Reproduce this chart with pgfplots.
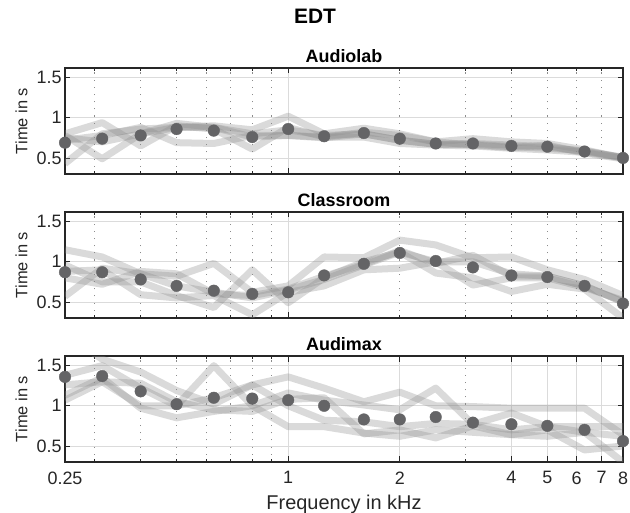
\documentclass[border=0pt]{standalone}
\usepackage{pgfplots}
\usepackage{pgfplotstable}
\pgfplotsset{compat=1.18}
\usepackage{fontspec}
\setmainfont{Liberation Sans}
\definecolor{axc}{RGB}{38,38,38}
\definecolor{dotc}{RGB}{100,100,102}
\definecolor{bandc}{RGB}{140,140,140}

\pgfplotstableread{
f     s1    s2    s3    s4    s5    m
0.25  0.43  0.78  0.80  0.72  0.75  0.69
0.315 0.80  0.49  0.94  0.78  0.70  0.74
0.4   0.86  0.80  0.65  0.88  0.80  0.78
0.5   0.88  0.93  0.90  0.69  0.88  0.86
0.63  0.90  0.88  0.86  0.68  0.88  0.84
0.8   0.85  0.80  0.61  0.78  0.76  0.76
1     1.02  0.85  0.88  0.78  0.78  0.86
1.25  0.80  0.78  0.76  0.76  0.75  0.77
1.6   0.87  0.80  0.82  0.76  0.80  0.81
2     0.80  0.72  0.78  0.68  0.72  0.74
2.5   0.70  0.67  0.70  0.66  0.67  0.68
3.15  0.74  0.68  0.66  0.65  0.67  0.68
4     0.70  0.66  0.63  0.62  0.64  0.65
5     0.68  0.64  0.66  0.60  0.62  0.64
6.3   0.60  0.58  0.56  0.57  0.59  0.58
8     0.50  0.51  0.49  0.50  0.50  0.50
}\audiolab

\pgfplotstableread{
f     s1    s2    s3    s4    s5    m
0.25  1.15  0.96  0.88  0.57  0.80  0.87
0.315 1.06  0.75  0.90  0.92  0.72  0.87
0.4   0.85  0.75  0.59  0.85  0.88  0.78
0.5   0.82  0.58  0.55  0.70  0.85  0.70
0.63  0.98  0.43  0.58  0.62  0.60  0.64
0.8   0.62  0.90  0.34  0.55  0.58  0.60
1     0.70  0.49  0.62  0.65  0.66  0.62
1.25  1.06  0.80  0.70  0.78  0.82  0.83
1.6   1.05  1.00  0.90  0.96  0.97  0.975
2     1.27  1.12  0.92  1.12  1.14  1.11
2.5   1.21  0.86  1.00  1.00  0.98  1.01
3.15  1.05  0.80  1.00  0.71  1.08  0.93
4     1.06  0.63  0.85  0.80  0.82  0.83
5     0.90  0.72  0.82  0.80  0.82  0.81
6.3   0.78  0.66  0.70  0.68  0.70  0.70
8     0.58  0.30  0.50  0.52  0.50  0.48
}\classroom

\pgfplotstableread{
f     s1    s2    s3    s4    s5    m
0.25  1.90  1.38  1.26  1.13  1.07  1.36
0.315 1.58  1.50  1.30  1.35  1.30  1.37
0.4   1.42  1.22  1.00  0.97  1.28  1.18
0.5   1.19  1.00  1.00  0.85  1.05  1.02
0.63  1.02  1.50  1.10  0.93  0.95  1.10
0.8   1.26  1.00  1.26  1.00  0.93  1.09
1     1.36  1.16  1.00  0.74  1.08  1.07
1.25  1.22  1.07  0.82  0.74  1.10  1.00
1.6   1.05  1.01  0.80  0.66  0.65  0.83
2     1.17  0.95  0.74  0.62  0.70  0.83
2.5   1.00  1.22  0.78  0.70  0.60  0.86
3.15  0.99  0.77  0.77  0.67  0.75  0.79
4     0.97  0.91  0.70  0.64  0.64  0.77
5     0.97  0.74  0.74  0.62  0.70  0.75
6.3   0.97  0.74  0.67  0.67  0.45  0.70
8     0.64  0.74  0.30  0.62  0.50  0.56
}\audimax

\pgfplotsset{
  width=558bp, height=106bp, scale only axis,
  axis line style={axc, line width=1.1pt},
  tick style={axc, line width=0.7pt},
  major tick length=5.5bp, minor tick length=3bp,
  tick align=inside,
  major grid style={black!14, line width=0.7pt},
  minor grid style={black!45, line width=0.6pt, dash pattern=on 1.2pt off 6pt},
  tick label style={font=\fontsize{18}{18}\selectfont, text=axc},
  xticklabel style={yshift=-6bp},
  title style={font=\bfseries\fontsize{18}{18}\selectfont, text=black},
}

\begin{document}
\begin{tikzpicture}
\useasboundingbox (0,0) rectangle (630bp,513bp);
\node[font=\bfseries\fontsize{21}{21}\selectfont, anchor=center] at (315bp,497bp) {EDT};

\begin{axis}[at={(65bp,339bp)}, anchor=south west,
  xmode=log, xmin=0.25, xmax=8, ymin=0.3, ymax=1.62,
  ytick={0.5,1,1.5}, yticklabels={0.5,1,1.5},
  xtick={1}, xticklabels={},
  minor xtick={0.3,0.4,0.5,0.6,0.7,0.8,0.9,2,3,4,5,6,7},
  grid=both,
  ylabel={Time in s},
  ylabel style={font=\fontsize{16.5}{16.5}\selectfont, text=axc, at={(axis description cs:-0.078,0.5)}, anchor=center},
  title={Audiolab},
  title style={at={(axis description cs:0.5,1)}, yshift=6bp, anchor=center}]
\addplot[bandc, opacity=0.32, line width=7bp, line join=round] table[x=f, y=s1] {\audiolab};
\addplot[bandc, opacity=0.32, line width=7bp, line join=round] table[x=f, y=s2] {\audiolab};
\addplot[bandc, opacity=0.32, line width=7bp, line join=round] table[x=f, y=s3] {\audiolab};
\addplot[bandc, opacity=0.32, line width=7bp, line join=round] table[x=f, y=s4] {\audiolab};
\addplot[bandc, opacity=0.32, line width=7bp, line join=round] table[x=f, y=s5] {\audiolab};
\addplot[only marks, mark=*, mark size=5.8bp, dotc, mark options={draw=dotc, fill=dotc}] table[x=f, y=m] {\audiolab};
\end{axis}

\begin{axis}[at={(65bp,195bp)}, anchor=south west,
  xmode=log, xmin=0.25, xmax=8, ymin=0.3, ymax=1.62,
  ytick={0.5,1,1.5}, yticklabels={0.5,1,1.5},
  xtick={1}, xticklabels={},
  minor xtick={0.3,0.4,0.5,0.6,0.7,0.8,0.9,2,3,4,5,6,7},
  grid=both,
  ylabel={Time in s},
  ylabel style={font=\fontsize{16.5}{16.5}\selectfont, text=axc, at={(axis description cs:-0.078,0.5)}, anchor=center},
  title={Classroom},
  title style={at={(axis description cs:0.5,1)}, yshift=6bp, anchor=center}]
\addplot[bandc, opacity=0.32, line width=7bp, line join=round] table[x=f, y=s1] {\classroom};
\addplot[bandc, opacity=0.32, line width=7bp, line join=round] table[x=f, y=s2] {\classroom};
\addplot[bandc, opacity=0.32, line width=7bp, line join=round] table[x=f, y=s3] {\classroom};
\addplot[bandc, opacity=0.32, line width=7bp, line join=round] table[x=f, y=s4] {\classroom};
\addplot[bandc, opacity=0.32, line width=7bp, line join=round] table[x=f, y=s5] {\classroom};
\addplot[only marks, mark=*, mark size=5.8bp, dotc, mark options={draw=dotc, fill=dotc}] table[x=f, y=m] {\classroom};
\end{axis}

\begin{axis}[at={(65bp,51bp)}, anchor=south west,
  xmode=log, xmin=0.25, xmax=8, ymin=0.3, ymax=1.62,
  ytick={0.5,1,1.5}, yticklabels={0.5,1,1.5},
  xtick={0.25,1,2,4,5,6,7,8}, xticklabels={0.25,1,2,4,5,6,7,8},
  minor xtick={0.3,0.4,0.5,0.6,0.7,0.8,0.9,3},
  grid=both,
  ylabel={Time in s},
  ylabel style={font=\fontsize{16.5}{16.5}\selectfont, text=axc, at={(axis description cs:-0.078,0.5)}, anchor=center},
  title={Audimax},
  title style={at={(axis description cs:0.5,1)}, yshift=6bp, anchor=center},
  xlabel={Frequency in kHz},
  xlabel style={font=\fontsize{20}{20}\selectfont, text=axc, at={(axis description cs:0.5,0)}, yshift=-42bp, anchor=center}]
\addplot[bandc, opacity=0.32, line width=7bp, line join=round] table[x=f, y=s1] {\audimax};
\addplot[bandc, opacity=0.32, line width=7bp, line join=round] table[x=f, y=s2] {\audimax};
\addplot[bandc, opacity=0.32, line width=7bp, line join=round] table[x=f, y=s3] {\audimax};
\addplot[bandc, opacity=0.32, line width=7bp, line join=round] table[x=f, y=s4] {\audimax};
\addplot[bandc, opacity=0.32, line width=7bp, line join=round] table[x=f, y=s5] {\audimax};
\addplot[only marks, mark=*, mark size=5.8bp, dotc, mark options={draw=dotc, fill=dotc}] table[x=f, y=m] {\audimax};
\end{axis}
\end{tikzpicture}
\end{document}
